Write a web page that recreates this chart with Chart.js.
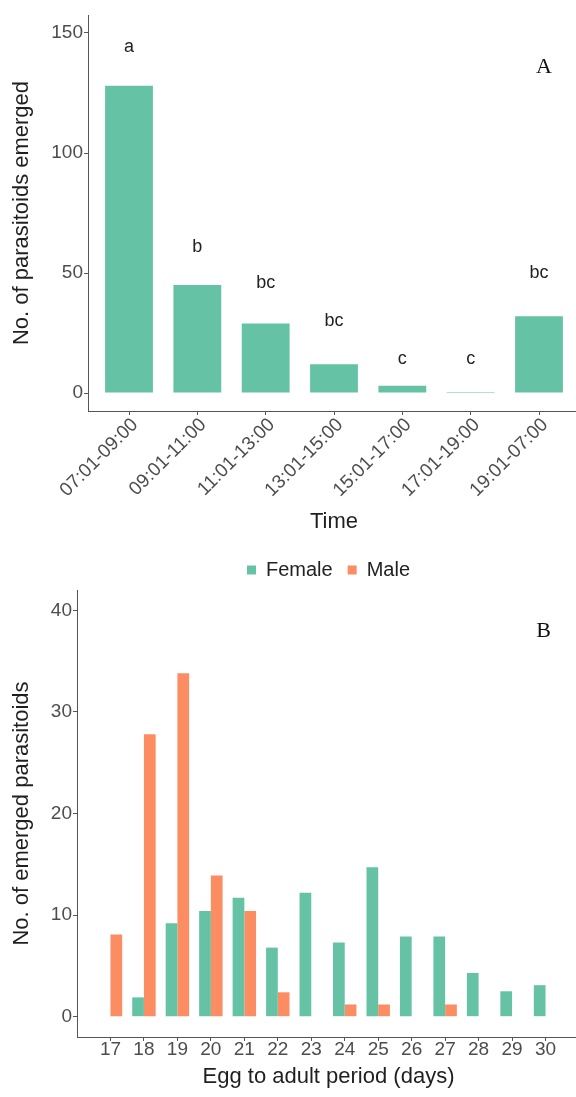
<!DOCTYPE html>
<html>
<head>
<meta charset="utf-8">
<script src="https://cdn.jsdelivr.net/npm/chart.js@4/dist/chart.umd.min.js"></script>
<style>
  html, body { margin: 0; padding: 0; background: #ffffff; overflow: hidden; width: 576px; height: 1097px; }
  canvas { position: absolute; left: 0; display: block; }
  #panelA { top: 0; }
  #panelB { top: 545px; }
</style>
</head>
<body>
<canvas id="panelA" width="580" height="545" style="width:580px;height:545px"></canvas>
<canvas id="panelB" width="580" height="552" style="width:580px;height:552px"></canvas>
<script>
// Panel A: emergence by time of day
const timeSlots = ['07:01-09:00', '09:01-11:00', '11:01-13:00', '13:01-15:00', '15:01-17:00', '17:01-19:00', '19:01-07:00'];
const emerged = [128, 45, 29, 12, 3, 0.4, 32];
const groupLetters = ['a', 'b', 'bc', 'bc', 'c', 'c', 'bc'];
const letterHeights = [144, 61, 46, 30, 14, 14, 50];
const countTicks = [0, 50, 100, 150];

// Panel B: development time by sex
const devDays = [17, 18, 19, 20, 21, 22, 23, 24, 25, 26, 27, 28, 29, 30];
const females = [0, 1.9, 9.2, 10.4, 11.7, 6.8, 12.2, 7.3, 14.7, 7.9, 7.9, 4.3, 2.5, 3.1];
const males = [8.1, 27.8, 33.8, 13.9, 10.4, 2.4, 0, 1.2, 1.2, 0, 1.2, 0, 0, 0];
const emergedTicks = [0, 10, 20, 30, 40];

const GREEN = '#66c2a5';
const ORANGE = '#fc8d62';
const AXIS = '#555555';
const TICK_TEXT = '#4d4d4d';
const TITLE_TEXT = '#1f1f1f';
const SANS = '"Liberation Sans", Arial, sans-serif';

Chart.defaults.font.family = SANS;
Chart.defaults.animation = false;

function panelTag(text, dx, dy) {
  return {
    id: 'panelTag' + text,
    afterDraw(chart) {
      const {ctx, chartArea} = chart;
      ctx.save();
      ctx.font = '22px "Liberation Serif", "DejaVu Serif", serif';
      ctx.fillStyle = '#111111';
      ctx.textAlign = 'center';
      ctx.textBaseline = 'middle';
      ctx.fillText(text, chartArea.right - dx, chartArea.top + dy);
      ctx.restore();
    }
  };
}

const letterPlugin = {
  id: 'groupLetters',
  afterDatasetsDraw(chart) {
    const {ctx, scales} = chart;
    ctx.save();
    ctx.font = '18px ' + SANS;
    ctx.fillStyle = '#222222';
    ctx.textAlign = 'center';
    ctx.textBaseline = 'middle';
    groupLetters.forEach((t, i) => {
      ctx.fillText(t, scales.x.getPixelForValue(i + 1), scales.y.getPixelForValue(letterHeights[i]));
    });
    ctx.restore();
  }
};

const tickFont = {size: 19, lineHeight: 1};
const titleFont = {size: 22, lineHeight: 1.2};

new Chart(document.getElementById('panelA'), {
  type: 'bar',
  data: {
    datasets: [{
      data: emerged.map((v, i) => ({x: i + 1, y: v})),
      backgroundColor: GREEN,
      borderWidth: 0,
      categoryPercentage: 0.7,
      barPercentage: 1
    }]
  },
  options: {
    responsive: false,
    devicePixelRatio: 1,
    layout: {padding: {top: 15, left: 0, right: 0, bottom: 0}},
    plugins: {legend: {display: false}, tooltip: {enabled: false}},
    scales: {
      x: {
        type: 'linear',
        offset: false,
        min: 0.4,
        max: 7.6,
        afterBuildTicks(scale) { scale.ticks = timeSlots.map((_, i) => ({value: i + 1})); },
        afterFit(scale) { scale.height = 134; },
        ticks: {
          autoSkip: false,
          minRotation: 45,
          maxRotation: 45,
          padding: 0,
          labelOffset: 6,
          color: TICK_TEXT,
          font: tickFont,
          callback: (v) => timeSlots[Math.round(v) - 1]
        },
        grid: {offset: false, drawOnChartArea: false, drawTicks: true, tickLength: 4, color: AXIS},
        border: {display: true, color: AXIS, width: 1},
        title: {display: true, text: 'Time', color: TITLE_TEXT, font: titleFont, padding: {top: 0, bottom: 10}}
      },
      y: {
        type: 'linear',
        min: -7.5,
        max: 157.5,
        afterBuildTicks(scale) { scale.ticks = countTicks.map(v => ({value: v})); },
        afterFit(scale) { scale.width = 88; },
        ticks: {padding: 1, color: TICK_TEXT, font: tickFont},
        grid: {drawOnChartArea: false, drawTicks: true, tickLength: 4, color: AXIS},
        border: {display: true, color: AXIS, width: 1},
        title: {display: true, text: 'No. of parasitoids emerged', color: TITLE_TEXT, font: titleFont, padding: {top: 9, bottom: 0}}
      }
    }
  },
  plugins: [letterPlugin, panelTag('A', 36, 52)]
});

new Chart(document.getElementById('panelB'), {
  type: 'bar',
  data: {
    datasets: [
      {
        label: 'Female',
        data: devDays.map((d, i) => ({x: d, y: females[i]})),
        backgroundColor: GREEN,
        borderWidth: 0,
        categoryPercentage: 0.7,
        barPercentage: 1
      },
      {
        label: 'Male',
        data: devDays.map((d, i) => ({x: d, y: males[i]})),
        backgroundColor: ORANGE,
        borderWidth: 0,
        categoryPercentage: 0.7,
        barPercentage: 1
      }
    ]
  },
  options: {
    responsive: false,
    devicePixelRatio: 1,
    layout: {padding: 0},
    plugins: {
      tooltip: {enabled: false},
      legend: {
        display: true,
        position: 'top',
        fullSize: false,
        labels: {boxWidth: 9, boxHeight: 9, padding: 15, color: '#222222', font: {size: 20}}
      }
    },
    scales: {
      x: {
        type: 'linear',
        offset: false,
        min: 16,
        max: 31.03,
        afterBuildTicks(scale) { scale.ticks = devDays.map(v => ({value: v})); },
        afterFit(scale) { scale.height = 60; },
        ticks: {
          autoSkip: false,
          minRotation: 0,
          maxRotation: 0,
          padding: -1,
          color: TICK_TEXT,
          font: tickFont,
          callback: (v) => String(v)
        },
        grid: {offset: false, drawOnChartArea: false, drawTicks: true, tickLength: 4, color: AXIS},
        border: {display: true, color: AXIS, width: 1},
        title: {display: true, text: 'Egg to adult period (days)', color: TITLE_TEXT, font: titleFont, padding: {top: 0, bottom: 7}}
      },
      y: {
        type: 'linear',
        min: -2,
        max: 42,
        afterBuildTicks(scale) { scale.ticks = emergedTicks.map(v => ({value: v})); },
        afterFit(scale) { scale.width = 77; },
        ticks: {padding: 1, color: TICK_TEXT, font: tickFont},
        grid: {drawOnChartArea: false, drawTicks: true, tickLength: 4, color: AXIS},
        border: {display: true, color: AXIS, width: 1},
        title: {display: true, text: 'No. of emerged parasitoids', color: TITLE_TEXT, font: titleFont, padding: {top: 9, bottom: 0}}
      }
    }
  },
  plugins: [panelTag('B', 36.5, 41)]
});
</script>
</body>
</html>
